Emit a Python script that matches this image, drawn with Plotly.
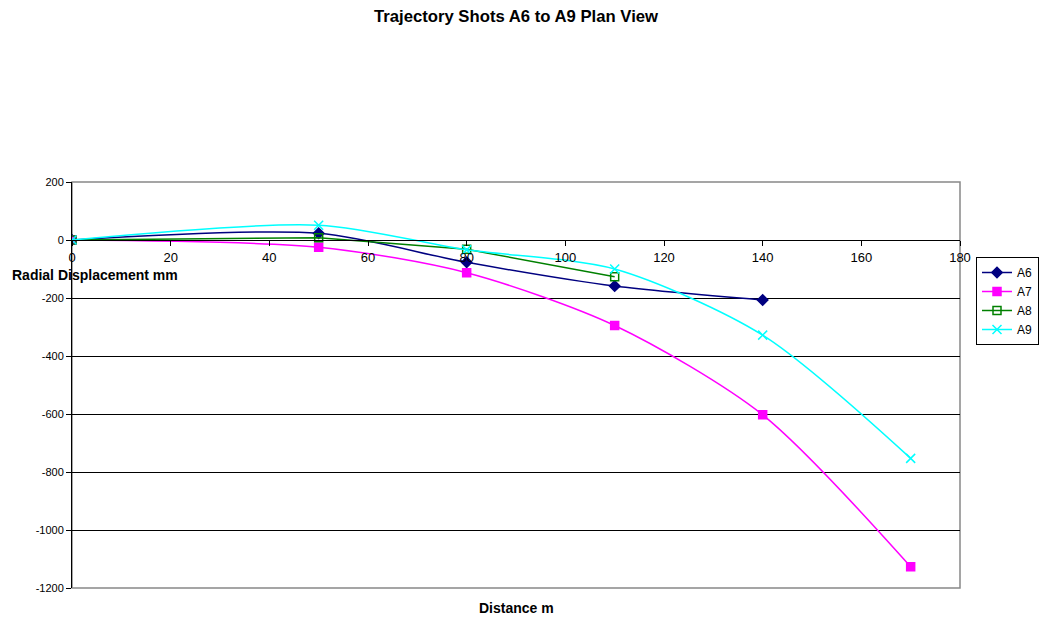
import plotly.graph_objects as go

distance = [0, 50, 80, 110, 140, 170]
a6 = [0, 23, -77, -159, -207]
a7 = [0, -25, -113, -295, -603, -1127]
a8 = [0, 8, -32, -127]
a9 = [0, 51, -34, -100, -328, -753]

y_ticks = [200, 0, -200, -400, -600, -800, -1000, -1200]
x_ticks = [0, 20, 40, 60, 80, 100, 120, 140, 160, 180]
y_range = [-1200, 200]
x_range = [0, 180]

# plot area in page pixels (page body has an 8px margin)
PL, PR, PT, PB = 72, 960, 182, 588
OFF = 8
W, H = 1042, 613

def fx(px):
    return (px - PL) / (PR - PL)

def fy(py):
    return (PB - py) / (PB - PT)

fig = go.Figure()
series = [
    ("A6", a6, "#000080", "diamond", 8, "spline"),
    ("A7", a7, "#FF00FF", "square", 8, "spline"),
    ("A8", a8, "#008000", "square-open", 8, "linear"),
    ("A9", a9, "#00FFFF", "x-thin-open", 9, "spline"),
]
for name, vals, col, sym, sz, shape in series:
    fig.add_trace(go.Scatter(
        x=distance[:len(vals)], y=vals, name=name, mode="lines+markers",
        line=dict(color=col, width=1.5, shape=shape, smoothing=0.8),
        marker=dict(symbol=sym, size=sz, color=col, line=dict(color=col, width=1.5)),
    ))

xpos = (0 - y_range[0]) / (y_range[1] - y_range[0])
fig.update_layout(
    width=W, height=H,
    margin=dict(l=PL - OFF, r=W - (PR - OFF), t=PT - OFF, b=H - (PB - OFF), autoexpand=False),
    paper_bgcolor="white", plot_bgcolor="white",
    font=dict(family="Liberation Sans, Arial", size=11, color="black"),
    title=dict(text="<b>Trajectory Shots A6 to A9 Plan View</b>",
               x=(516 - OFF) / W, xanchor="center", xref="container",
               y=1 - 2 / H, yanchor="top", yref="container", pad=dict(t=0, b=0),
               font=dict(size=16.7)),
    xaxis=dict(range=x_range, tickvals=x_ticks, ticktext=[str(v) for v in x_ticks],
               anchor="free", position=xpos, showline=True, linecolor="black", linewidth=1,
               ticks="outside", ticklen=5, tickcolor="black", showgrid=False, zeroline=False,
               tickfont=dict(size=13)),
    yaxis=dict(range=y_range, tickvals=y_ticks, ticktext=[str(v) for v in y_ticks],
               showline=True, linecolor="black", linewidth=1, ticks="outside", ticklen=5,
               tickcolor="black", showgrid=True, gridcolor="black", gridwidth=1, zeroline=False,
               tickfont=dict(size=11)),
    legend=dict(x=fx(976), xanchor="left", y=fy(257), yanchor="top",
                bordercolor="black", borderwidth=1, bgcolor="white", font=dict(size=12),
                tracegroupgap=0, itemwidth=30),
    showlegend=True,
)
fig.add_shape(type="rect", xref="paper", yref="paper", x0=0, x1=1, y0=0, y1=1,
              line=dict(color="#888888", width=1.5), layer="below")
fig.add_annotation(text="<b>Radial Displacement mm</b>", xref="paper", yref="paper",
                   x=fx(10), xanchor="left", y=fy(275), yanchor="middle",
                   showarrow=False, font=dict(size=14))
fig.add_annotation(text="<b>Distance m</b>", xref="paper", yref="paper",
                   x=fx(516), xanchor="center", y=fy(608), yanchor="middle",
                   showarrow=False, font=dict(size=14))
fig.write_html("out.html")
